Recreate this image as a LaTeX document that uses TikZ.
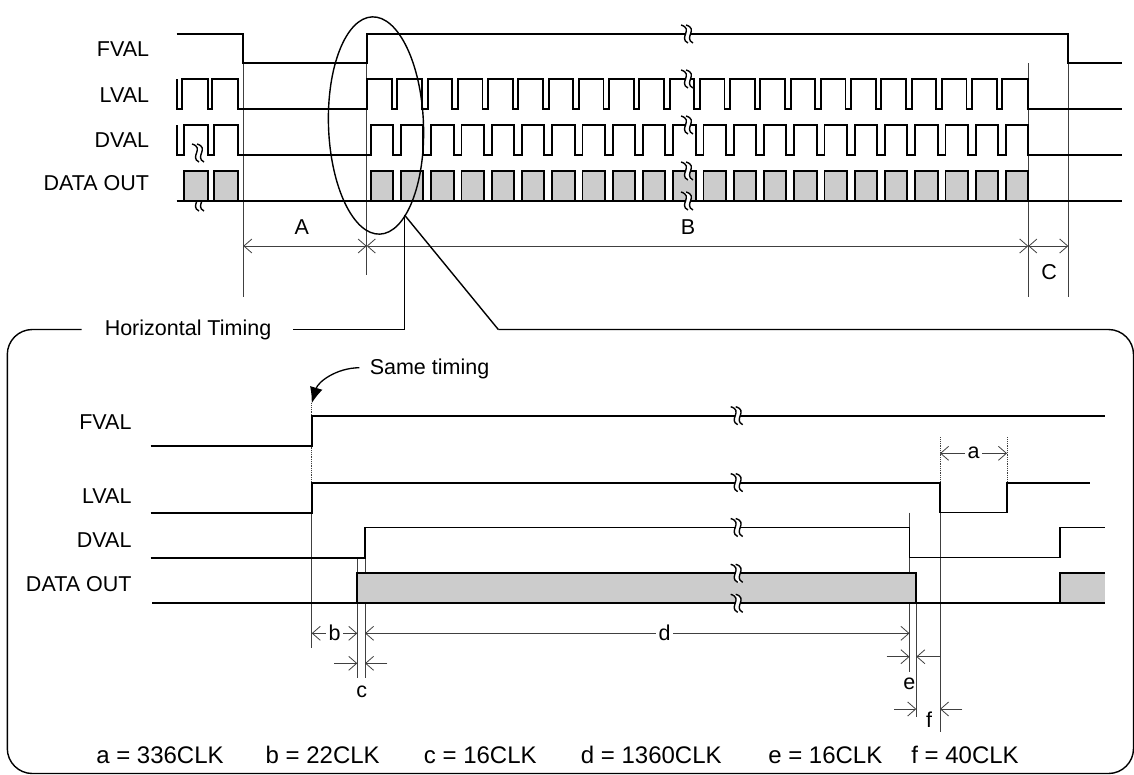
\documentclass[tikz,border=0pt]{standalone}
\usepackage{fontspec}
\setmainfont{Liberation Sans}
\usetikzlibrary{arrows.meta}

% font of a given size
\newcommand{\fsz}[1]{\fontsize{#1}{#1}\selectfont}
% break symbol (two wavy strokes) at (#1,#2)
\newcommand{\brkmark}[2]{%
  \fill[white] ({#1-6},{#2-9}) .. controls ({#1+7},{#2-5}) and ({#1-9},{#2+4}) .. ({#1+1},{#2+9})
    -- ({#1+6},{#2+9}) .. controls ({#1-4},{#2+4}) and ({#1+12},{#2-5}) .. ({#1-1},{#2-9}) -- cycle;
  \draw[brk] ({#1-6},{#2-9}) .. controls ({#1+7},{#2-5}) and ({#1-9},{#2+4}) .. ({#1+1},{#2+9});
  \draw[brk] ({#1-1},{#2-9}) .. controls ({#1+12},{#2-5}) and ({#1-4},{#2+4}) .. ({#1+6},{#2+9});
}

\begin{document}
\begin{tikzpicture}[x=1pt,y=-1pt]
% clock period of the overview
\def\per{30.25}
% styles
\tikzstyle{sig} = [line width=1.9pt, line join=miter];
\tikzstyle{box} = [sig, fill=black!20];
\tikzstyle{brk} = [line width=1.4pt];
\tikzstyle{ref} = [line width=0.8pt, black!75];
\tikzstyle{dots} = [ref, densely dotted];
\tikzstyle{barb} = [line width=0.8pt, black!75, -{Straight Barb[length=8pt,width=14pt]}];
\tikzstyle{dim} = [barb, {Straight Barb[length=8pt,width=14pt]}-{Straight Barb[length=8pt,width=14pt]}];
\tikzstyle{lbl} = [font=\fsz{21.5}, inner sep=0pt];
\tikzstyle{dlbl} = [font=\fsz{21.5}, text=black, fill=white, inner sep=3pt];
\tikzstyle{leg} = [font=\fsz{24}, inner sep=0pt];

\useasboundingbox (0,0) rectangle (1134,774);

%%% overview
\node[lbl, anchor=east] (fvalA) at (149.3,48.7) {FVAL};
\node[lbl, anchor=east] (lvalA) at (149.3,95.5) {LVAL};
\node[lbl, anchor=east] (dvalA) at (149.3,140) {DVAL};
\node[lbl, anchor=east] (dataA) at (149.3,183) {DATA OUT};

% reference lines
\draw[ref] (243.3,63) -- (243.3,297);
\draw[ref] (366.7,63) -- (366.7,275);
\draw[ref] (1028.3,63) -- (1028.3,297);
\draw[ref] (1068.3,63) -- (1068.3,297);

% FVAL
\draw[sig] (176.7,34) -- (243.3,34) -- (243.3,63) -- (366.7,63) -- (366.7,34)
  -- (1068.3,34) -- (1068.3,63) -- (1121.7,63);
% LVAL
\draw[sig] (176.7,79) -- (176.7,109) -- (181.7,109) -- (181.7,79) -- (207.7,79) -- (207.7,109)
  -- (212.3,109) -- (212.3,79) -- (238.3,79) -- (238.3,109) -- (366.7,109) -- (366.7,79)
  \foreach \k in {0,...,20} { -- ({391.7+\per*\k},79) -- ++(0,30) -- ++(5.6,0) -- ++(0,-30) }
  -- (1028.3,79) -- (1028.3,109) -- (1121.7,109);
% DVAL
\draw[sig] (176.7,125) -- (176.7,155) -- (184.3,155) -- (184.3,125) -- (208.3,125) -- (208.3,155)
  -- (214,155) -- (214,125) -- (238.3,125) -- (238.3,155)
  \foreach \k in {0,...,21} { -- ({370.7+\per*\k},155) -- ++(0,-30) -- ++(22.4,0) -- ++(0,30) }
  -- (1121.7,155);
% DATA OUT
\brkmark{198}{202}
\brkmark{198}{153}
\filldraw[box] (184.3,171) rectangle (207.7,201);
\filldraw[box] (214,171) rectangle (238.3,201);
\foreach \k in {0,...,21}
  \filldraw[box] ({370.7+\per*\k},171) rectangle ++(22.4,30);
\draw[sig] (176.7,201) -- (1121.7,201);

% breaks
\foreach \y in {34,79,125,171,201}
  \brkmark{687}{\y};

% A, B, C
\coordinate (tA) at (243.3,246);
\coordinate (tB) at (366.7,246);
\coordinate (tC) at (1028.3,246);
\coordinate (tD) at (1068.3,246);
\draw[dim] (tA) -- (tB);
\draw[dim] (tB) -- (tC);
\draw[dim] (tC) -- (tD);
\node[lbl] (A) at (301.7,226.7) {A};
\node[lbl] (B) at (688,226.7) {B};
\node[lbl] (C) at (1049,271.7) {C};

% zoom ellipse and leaders
\draw[line width=1.4pt, rotate around={2:(376,125.5)}] (376,125.5) ellipse [x radius=47.5, y radius=108.7];
\coordinate (lead) at (404.5,215);
\coordinate (frL) at (404.5,329.5);
\coordinate (frR) at (498.3,329.5);
\draw[line width=1.4pt] (lead) -- (frL);
\draw[line width=1.4pt] (lead) -- (frR);

%%% horizontal timing frame
\node[lbl] (title) at (188,330) {Horizontal Timing};
\draw[line width=1.4pt, rounded corners=25] (81.7,329.5) -- (7.3,329.5) -- (7.3,773.5)
  -- (1133.5,773.5) -- (1133.5,329.5) -- (frR);
\draw[line width=1.4pt] (293.3,329.5) -- (frL);

\node[lbl, anchor=east] (fvalB) at (131.7,421.7) {FVAL};
\node[lbl, anchor=east] (lvalB) at (131.7,495.7) {LVAL};
\node[lbl, anchor=east] (dvalB) at (131.7,540) {DVAL};
\node[lbl, anchor=east] (dataB) at (131.7,584.3) {DATA OUT};

% reference lines
\draw[dots] (311.7,403.3) -- (311.7,482.6);
\draw[ref] (311.7,512.7) -- (311.7,648.3);
\draw[ref] (357.3,557.7) -- (357.3,678.3);
\draw[ref] (365,557.7) -- (365,678.3);
\draw[ref] (909.5,512.7) -- (909.5,671.7);
\draw[ref] (916.3,573.3) -- (916.3,716.7);
\draw[ref] (940,482.6) -- (940,731.7);
\draw[dots] (940,437.3) -- (940,482.6);
\draw[dots] (1007,437.3) -- (1007,482.6);

% signals
\draw[sig] (150.7,446) -- (311.7,446) -- (311.7,415.7) -- (1105.3,415.7);
\draw[sig] (150.7,512.7) -- (311.7,512.7) -- (311.7,482.6) -- (940,482.6) -- (940,512.5)
  -- (1007,512.5) -- (1007,482.6) -- (1090,482.6);
\draw[sig] (150.7,557.7) -- (365,557.7) -- (365,527.5) -- (909.5,527.5) -- (909.5,557.5)
  -- (1060,557.5) -- (1060,527.5) -- (1105,527.5);
\filldraw[box] (357.3,573.3) rectangle (916.3,603.3);
\fill[black!20] (1060.3,573.3) rectangle (1105,603.3);
\draw[sig] (1105,573.3) -- (1060.3,573.3) -- (1060.3,603.3);
\draw[sig] (152.3,603.3) -- (1105,603.3);
\foreach \y in {415.7,482.6,527.5,573.3,603.3}
  \brkmark{736.7}{\y};

% same timing note
\node[lbl] (same) at (429.5,369.3) {Same timing};
\draw[line width=1.3pt, -{Latex[length=16pt,width=13pt]}] (359.3,367.7)
  .. controls (336,368) and (318,382) .. (311.7,403.3);

% a .. f
\coordinate (ta1) at (940,453.3);
\coordinate (ta2) at (1007,453.3);
\draw[dim] (ta1) -- (ta2) node[dlbl, midway] (a) {a};
\coordinate (tb1) at (311.7,633.3);
\coordinate (tb2) at (357.3,633.3);
\draw[dim] (tb1) -- (tb2) node[dlbl, midway] (b) {b};
\coordinate (td1) at (365,633.3);
\coordinate (td2) at (909.5,633.3);
\draw[dim] (td1) -- (td2) node[dlbl, pos=0.55] (d) {d};
\draw[barb] (334.3,663.3) -- (357.3,663.3);
\draw[barb] (387.3,663.3) -- (365,663.3);
\node[lbl] (c) at (361.7,691.7) {c};
\draw[barb] (886.7,656.7) -- (909.5,656.7);
\draw[barb] (940,656.7) -- (916.3,656.7);
\node[lbl] (e) at (909.3,684) {e};
\draw[barb] (894,709) -- (916.3,709);
\draw[barb] (962.3,709) -- (940,709);
\node[lbl] (f) at (929,720) {f};

% legend
\node[leg] (la) at (160,755) {a = 336CLK};
\node[leg] (lb) at (322.7,755) {b = 22CLK};
\node[leg] (lc) at (480.3,755) {c = 16CLK};
\node[leg] (ld) at (651.3,755) {d = 1360CLK};
\node[leg] (le) at (825.3,755) {e = 16CLK};
\node[leg] (lf) at (965,755) {f = 40CLK};
\end{tikzpicture}
\end{document}
